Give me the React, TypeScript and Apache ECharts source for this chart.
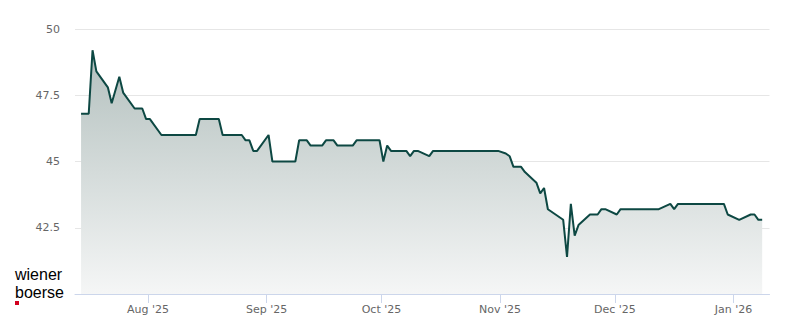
import React, { useEffect, useRef } from "react";
import * as echarts from "echarts";

const dates: string[] = [
  "2025-07-14", "2025-07-16", "2025-07-17", "2025-07-18", "2025-07-21", "2025-07-22",
  "2025-07-24", "2025-07-25", "2025-07-28", "2025-07-30", "2025-07-31", "2025-08-01",
  "2025-08-04", "2025-08-13", "2025-08-14", "2025-08-19", "2025-08-20", "2025-08-25",
  "2025-08-26", "2025-08-27", "2025-08-28", "2025-08-29", "2025-09-01", "2025-09-02",
  "2025-09-08", "2025-09-09", "2025-09-11", "2025-09-12", "2025-09-15", "2025-09-16",
  "2025-09-18", "2025-09-19", "2025-09-23", "2025-09-24", "2025-09-30", "2025-10-01",
  "2025-10-02", "2025-10-03", "2025-10-07", "2025-10-08", "2025-10-09", "2025-10-10",
  "2025-10-13", "2025-10-14", "2025-10-31", "2025-11-02", "2025-11-03", "2025-11-04",
  "2025-11-06", "2025-11-07", "2025-11-10", "2025-11-11", "2025-11-12", "2025-11-13",
  "2025-11-17", "2025-11-18", "2025-11-19", "2025-11-20", "2025-11-21", "2025-11-24",
  "2025-11-26", "2025-11-27", "2025-11-28", "2025-12-01", "2025-12-02", "2025-12-12",
  "2025-12-15", "2025-12-16", "2025-12-17", "2025-12-29", "2025-12-30", "2026-01-02",
  "2026-01-05", "2026-01-06", "2026-01-07", "2026-01-08",
];

const prices: number[] = [
  46.8, 46.8, 49.2, 48.4, 47.8, 47.2,
  48.2, 47.6, 47.0, 47.0, 46.6, 46.6,
  46.0, 46.0, 46.6, 46.6, 46.0, 46.0,
  45.8, 45.8, 45.4, 45.4, 46.0, 45.0,
  45.0, 45.8, 45.8, 45.6, 45.6, 45.8,
  45.8, 45.6, 45.6, 45.8, 45.8, 45.0,
  45.6, 45.4, 45.4, 45.2, 45.4, 45.4,
  45.2, 45.4, 45.4, 45.3, 45.2, 44.8,
  44.8, 44.6, 44.2, 43.8, 44.0, 43.2,
  42.8, 41.4, 43.4, 42.2, 42.6, 43.0,
  43.0, 43.2, 43.2, 43.0, 43.2, 43.2,
  43.4, 43.2, 43.4, 43.4, 43.0, 42.8,
  43.0, 43.0, 42.8, 42.8,
];

const tickDates: string[] = ["2025-08-01", "2025-09-01", "2025-10-01", "2025-11-01", "2025-12-01", "2026-01-01"];
const tickLabels: string[] = ["Aug '25", "Sep '25", "Oct '25", "Nov '25", "Dec '25", "Jan '26"];

const yMin = 40;
const yMax = 50;
const yStep = 2.5;

function parseDate(s: string, hour = 0): number {
  const [y, m, d] = s.split("-").map(Number);
  return new Date(y, m - 1, d, hour).getTime();
}

export default function App() {
  const ref = useRef<HTMLDivElement>(null);

  useEffect(() => {
    document.body.style.margin = "0";
    if (!ref.current) return;
    const chart = echarts.init(ref.current, undefined, { renderer: "svg" });

    const tickValues = tickDates.map((d) => parseDate(d));
    const seriesData = dates.map((d, i) => [parseDate(d, 12), prices[i]]);
    const lineColor = "#0d4843";

    chart.setOption({
      animation: false,
      grid: { left: 75, right: 30.5, top: 29, bottom: 30, containLabel: false },
      xAxis: {
        type: "value",
        scale: true,
        min: new Date(2025, 6, 12, 22).getTime(),
        max: new Date(2026, 0, 10, 10).getTime(),
        axisLine: { show: true, lineStyle: { color: "#ccd6eb", width: 1 } },
        axisTick: {
          show: true,
          length: 9,
          customValues: tickValues,
          lineStyle: { color: "#ccd6eb", width: 1 },
        },
        axisLabel: {
          customValues: tickValues,
          formatter: (v: number) => {
            const idx = tickValues.indexOf(v);
            return idx >= 0 ? tickLabels[idx] : "";
          },
          color: "#666666",
          fontSize: 11,
          fontFamily: "DejaVu Sans",
          margin: 10,
        },
        splitLine: { show: false },
      },
      yAxis: {
        type: "value",
        min: yMin,
        max: yMax,
        interval: yStep,
        axisLine: { show: false },
        axisTick: { show: false },
        axisLabel: {
          showMinLabel: false,
          color: "#666666",
          fontSize: 11,
          fontFamily: "DejaVu Sans",
          margin: 15,
        },
        splitLine: { show: true, lineStyle: { color: "#e6e6e6", width: 1 } },
      },
      series: [
        {
          type: "line",
          data: seriesData,
          showSymbol: false,
          symbol: "none",
          lineStyle: { color: lineColor, width: 2 },
          itemStyle: { color: lineColor },
          areaStyle: {
            color: new echarts.graphic.LinearGradient(0, 0, 0, 1, [
              { offset: 0, color: "#b3c0be" },
              { offset: 1, color: "#f5f6f6" },
            ]),
            opacity: 1,
          },
          z: 3,
        },
      ],
      graphic: [
        {
          type: "text",
          left: 15,
          top: 265,
          style: {
            text: "wiener\nboerse",
            font: "16px 'Liberation Sans', Arial, sans-serif",
            lineHeight: 18,
            fill: "#000000",
          },
        },
        {
          type: "rect",
          left: 15,
          top: 301,
          shape: { width: 4, height: 4 },
          style: { fill: "#d2001e" },
        },
      ],
    });

    return () => chart.dispose();
  }, []);

  return <div ref={ref} style={{ width: 800, height: 324 }} />;
}
